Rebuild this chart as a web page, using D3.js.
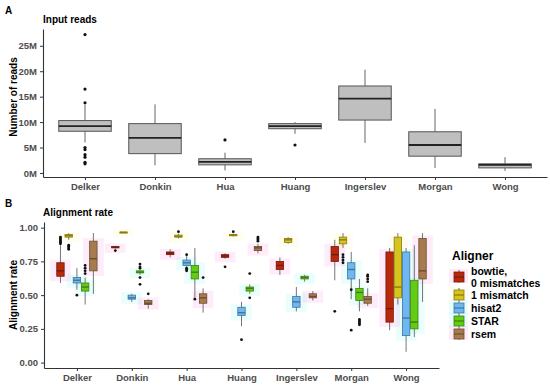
<!DOCTYPE html>
<html>
<head>
<meta charset="utf-8">
<script src="https://cdn.jsdelivr.net/npm/d3@7"></script>
<style>
  body { margin: 0; background: #fff; }
  text { font-family: "Liberation Sans", Arial, sans-serif; font-weight: bold; }
</style>
</head>
<body>
<svg id="chart" width="550" height="385"></svg>
<script>
// ---- data ----
var studies = ["Delker", "Donkin", "Hua", "Huang", "Ingerslev", "Morgan", "Wong"];

// input reads, millions: [lower whisker, q1, median, q3, upper whisker]
var readStats = [
  [6.0, 8.2, 9.2, 10.3, 13.5],
  [1.5, 3.8, 6.9, 9.7, 13.5],
  [0.5, 1.6, 2.2, 2.8, 4.0],
  [7.7, 8.7, 9.2, 9.7, 10.0],
  [5.9, 10.4, 14.6, 17.1, 20.3],
  [1.0, 3.3, 5.5, 8.1, 12.6],
  [0.4, 1.0, 1.6, 1.8, 3.1]
];
var readOutliers = [
  [27.2, 16.5, 13.8, 5.0, 4.6, 3.6, 3.1, 2.1, 1.8],
  [], [6.5], [5.5], [], [], []
];
var readTicks = [0, 5, 10, 15, 20, 25];

var aligners = ["bowtie,\n0 mismatches", "1 mismatch", "hisat2", "STAR", "rsem"];
var alignerColors = ["#b8290c", "#d6c31b", "#6db8f2", "#62cc14", "#a87b4f"];
var haloColors = ["#ff4fd0", "#fff070", "#3ff2ee", "#3ff2ee", "#ff4fd0"];

// alignment rate per study: [lower whisker, q1, median, q3, upper whisker]
var bowtieStats = [
  [0.59, 0.64, 0.68, 0.74, 0.87],
  [0.845, 0.85, 0.855, 0.86, 0.865],
  [0.78, 0.80, 0.81, 0.82, 0.84],
  [0.77, 0.78, 0.79, 0.80, 0.81],
  [0.65, 0.69, 0.72, 0.75, 0.78],
  [0.61, 0.75, 0.80, 0.86, 0.91],
  [0.24, 0.30, 0.40, 0.82, 0.85]
];
var mismatchStats = [
  [0.91, 0.93, 0.94, 0.95, 0.96],
  [0.963, 0.965, 0.966, 0.967, 0.968],
  [0.92, 0.93, 0.935, 0.945, 0.955],
  [0.935, 0.94, 0.945, 0.95, 0.955],
  [0.88, 0.89, 0.91, 0.92, 0.93],
  [0.85, 0.88, 0.91, 0.93, 0.96],
  [0.43, 0.48, 0.56, 0.93, 0.96]
];
var hisat2Stats = [
  [0.54, 0.59, 0.61, 0.63, 0.70],
  [0.45, 0.47, 0.48, 0.50, 0.51],
  [0.71, 0.72, 0.74, 0.76, 0.79],
  [0.27, 0.35, 0.37, 0.41, 0.45],
  [0.38, 0.41, 0.45, 0.49, 0.56],
  [0.47, 0.62, 0.69, 0.74, 0.82],
  [0.08, 0.20, 0.33, 0.82, 0.85]
];
var starStats = [
  [0.43, 0.53, 0.56, 0.59, 0.63],
  [0.65, 0.665, 0.67, 0.68, 0.69],
  [0.48, 0.62, 0.67, 0.72, 0.85],
  [0.51, 0.53, 0.55, 0.56, 0.58],
  [0.60, 0.62, 0.63, 0.64, 0.65],
  [0.38, 0.46, 0.52, 0.55, 0.62],
  [0.19, 0.25, 0.30, 0.61, 0.87]
];
var rsemStats = [
  [0.51, 0.68, 0.77, 0.90, 0.96],
  [0.40, 0.43, 0.44, 0.46, 0.47],
  [0.37, 0.44, 0.48, 0.51, 0.55],
  [0.81, 0.83, 0.85, 0.86, 0.88],
  [0.46, 0.48, 0.49, 0.51, 0.53],
  [0.42, 0.44, 0.47, 0.49, 0.55],
  [0.45, 0.62, 0.68, 0.92, 0.96]
];
var bowtieOutliers = [[0.88, 0.89, 0.90, 0.91, 0.92, 0.93], [0.83], [], [0.71], [], [0.38], []];
var mismatchOutliers = [[0.84, 0.85, 0.86, 0.87], [], [0.97], [0.97], [], [0.74, 0.76, 0.78, 0.80], []];
var hisat2Outliers = [[0.50], [], [0.68, 0.69, 0.70, 0.80], [0.17], [], [0.54, 0.24], []];
var starOutliers = [[0.66, 0.68, 0.70, 0.72], [0.70, 0.71, 0.73, 0.63, 0.58], [0.47], [0.66, 0.48], [], [0.28, 0.29, 0.30, 0.31, 0.32], []];
var rsemOutliers = [[], [0.51], [0.63], [0.90, 0.91, 0.92, 0.93], [], [0.60, 0.62, 0.64, 0.65], []];

var alignStats = [bowtieStats, mismatchStats, hisat2Stats, starStats, rsemStats];
var alignOutliers = [bowtieOutliers, mismatchOutliers, hisat2Outliers, starOutliers, rsemOutliers];
var rateTicks = [0, 0.25, 0.5, 0.75, 1];

// ---- drawing ----
var svg = d3.select("#chart");
var axisColor = "#333";
var labelColor = "#4d4d4d";

function styleAxis(g) {
  g.select(".domain").attr("stroke", axisColor).attr("stroke-width", 1.1);
  g.selectAll(".tick line").attr("stroke", axisColor);
  g.selectAll(".tick text").attr("fill", labelColor).attr("font-size", "9.5px")
    .attr("font-family", "Liberation Sans, Arial, sans-serif").attr("font-weight", "bold");
}

// panel A
var xA = d3.scalePoint().domain(studies).range([43, 547]).padding(0.6);
var yA = d3.scaleLinear().domain([-0.79, 28.3]).range([177, 29]);
var boxWA = xA.step() * 0.75;

svg.append("text").attr("x", 5).attr("y", 14).attr("font-size", "10px").text("A");
svg.append("text").attr("x", 43).attr("y", 23).attr("font-size", "10px").attr("fill", "#000").text("Input reads");

svg.append("g").attr("transform", "translate(43,0)")
  .call(d3.axisLeft(yA).tickValues(readTicks).tickFormat(d => d + "M").tickSize(3).tickSizeOuter(0))
  .call(styleAxis);
svg.append("g").attr("transform", "translate(0,177)")
  .call(d3.axisBottom(xA).tickSize(3).tickSizeOuter(0))
  .call(styleAxis)
  .call(g => g.selectAll(".tick text").attr("dy", "0.75em"));

svg.append("text").attr("transform", "translate(17,97) rotate(-90)")
  .attr("text-anchor", "middle").attr("font-size", "10px").attr("fill", "#000").text("Number of reads");

var boxesA = svg.append("g").selectAll("g").data(readStats).join("g");
boxesA.append("line")
  .attr("x1", (d, i) => xA(studies[i])).attr("x2", (d, i) => xA(studies[i]))
  .attr("y1", d => yA(d[0])).attr("y2", d => yA(d[4]))
  .attr("stroke", "#666").attr("stroke-width", 1);
boxesA.append("rect")
  .attr("x", (d, i) => xA(studies[i]) - boxWA / 2).attr("width", boxWA)
  .attr("y", d => yA(d[3])).attr("height", d => yA(d[1]) - yA(d[3]))
  .attr("fill", "#bfbfbf").attr("stroke", "#555").attr("stroke-width", 1);
boxesA.append("line")
  .attr("x1", (d, i) => xA(studies[i]) - boxWA / 2).attr("x2", (d, i) => xA(studies[i]) + boxWA / 2)
  .attr("y1", d => yA(d[2])).attr("y2", d => yA(d[2]))
  .attr("stroke", "#222").attr("stroke-width", 1.8);
readOutliers.forEach(function(arr, i) {
  svg.append("g").selectAll("circle").data(arr).join("circle")
    .attr("cx", xA(studies[i])).attr("cy", d => yA(d)).attr("r", 1.6).attr("fill", "#111");
});

// panel B
var xB = d3.scalePoint().domain(studies).range([44, 439]).padding(0.6);
var yB = d3.scaleLinear().domain([-0.04, 1.042]).range([368, 222]);
var dodge = xB.step() * 0.75 / 5;
var boxWB = dodge * 0.9;

svg.append("text").attr("x", 5).attr("y", 207).attr("font-size", "10px").text("B");
svg.append("text").attr("x", 43).attr("y", 216).attr("font-size", "10px").attr("fill", "#000").text("Alignment rate");

svg.append("g").attr("transform", "translate(44,0)")
  .call(d3.axisLeft(yB).tickValues(rateTicks).tickFormat(d3.format(".2f")).tickSize(3).tickSizeOuter(0))
  .call(styleAxis);
svg.append("g").attr("transform", "translate(0,368)")
  .call(d3.axisBottom(xB).tickSize(3).tickSizeOuter(0))
  .call(styleAxis)
  .call(g => g.selectAll(".tick text").attr("dy", "0.75em"));

svg.append("text").attr("transform", "translate(17,295) rotate(-90)")
  .attr("text-anchor", "middle").attr("font-size", "10px").attr("fill", "#000").text("Alignment rate");

var halos = svg.append("g");
var boxesB = svg.append("g");
alignStats.forEach(function(stats, a) {
  var col = alignerColors[a];
  var dark = d3.color(col).darker(1.3).formatHex();
  var cx = (d, i) => xB(studies[i]) + (a - 2) * dodge;
  halos.selectAll(null).data(stats).join("rect")
    .attr("x", (d, i) => cx(d, i) - boxWB * 1.4).attr("width", boxWB * 2.8)
    .attr("y", d => yB(d[3]) - 3).attr("height", d => yB(d[1]) - yB(d[3]) + 8)
    .attr("fill", haloColors[a]).attr("opacity", 0.11);
  var g = boxesB.append("g");
  g.selectAll(".wh").data(stats).join("line")
    .attr("x1", cx).attr("x2", cx)
    .attr("y1", d => yB(d[0])).attr("y2", d => yB(d[4]))
    .attr("stroke", "#666").attr("stroke-width", 0.9);
  g.selectAll(".bx").data(stats).join("rect")
    .attr("x", (d, i) => cx(d, i) - boxWB / 2).attr("width", boxWB)
    .attr("y", d => yB(d[3])).attr("height", d => Math.max(1, yB(d[1]) - yB(d[3])))
    .attr("fill", col).attr("stroke", dark).attr("stroke-width", 0.8);
  g.selectAll(".md").data(stats).join("line")
    .attr("x1", (d, i) => cx(d, i) - boxWB / 2).attr("x2", (d, i) => cx(d, i) + boxWB / 2)
    .attr("y1", d => yB(d[2])).attr("y2", d => yB(d[2]))
    .attr("stroke", dark).attr("stroke-width", 1.4);
  alignOutliers[a].forEach(function(arr, i) {
    g.append("g").selectAll("circle").data(arr).join("circle")
      .attr("cx", cx(null, i)).attr("cy", d => yB(d)).attr("r", 1.4).attr("fill", "#111");
  });
});

// legend
var legend = svg.append("g").attr("transform", "translate(452,0)");
legend.append("text").attr("x", 0).attr("y", 260).attr("font-size", "12px").attr("fill", "#000").text("Aligner");
var keyY = [277, 295, 308, 321, 334];
aligners.forEach(function(name, a) {
  var ky = keyY[a];
  var col = alignerColors[a];
  var dark = d3.color(col).darker(1.3).formatHex();
  legend.append("rect").attr("x", -3).attr("y", ky - 8).attr("width", 19).attr("height", 14)
    .attr("fill", haloColors[a]).attr("opacity", 0.12);
  legend.append("line").attr("x1", 7).attr("x2", 7).attr("y1", ky - 7).attr("y2", ky + 6).attr("stroke", "#666");
  legend.append("rect").attr("x", 2).attr("y", ky - 5).attr("width", 10).attr("height", 10)
    .attr("fill", col).attr("stroke", dark).attr("stroke-width", 0.8);
  legend.append("line").attr("x1", 2).attr("x2", 12).attr("y1", ky).attr("y2", ky).attr("stroke", dark).attr("stroke-width", 1.2);
  var lines = name.split("\n");
  var t = legend.append("text").attr("x", 19).attr("font-size", "10.5px").attr("fill", "#000");
  lines.forEach(function(l, k) {
    t.append("tspan").attr("x", 19)
      .attr("y", lines.length > 1 ? ky - 6 + k * 12 + 4 : ky + 4).text(l);
  });
});
</script>
</body>
</html>
